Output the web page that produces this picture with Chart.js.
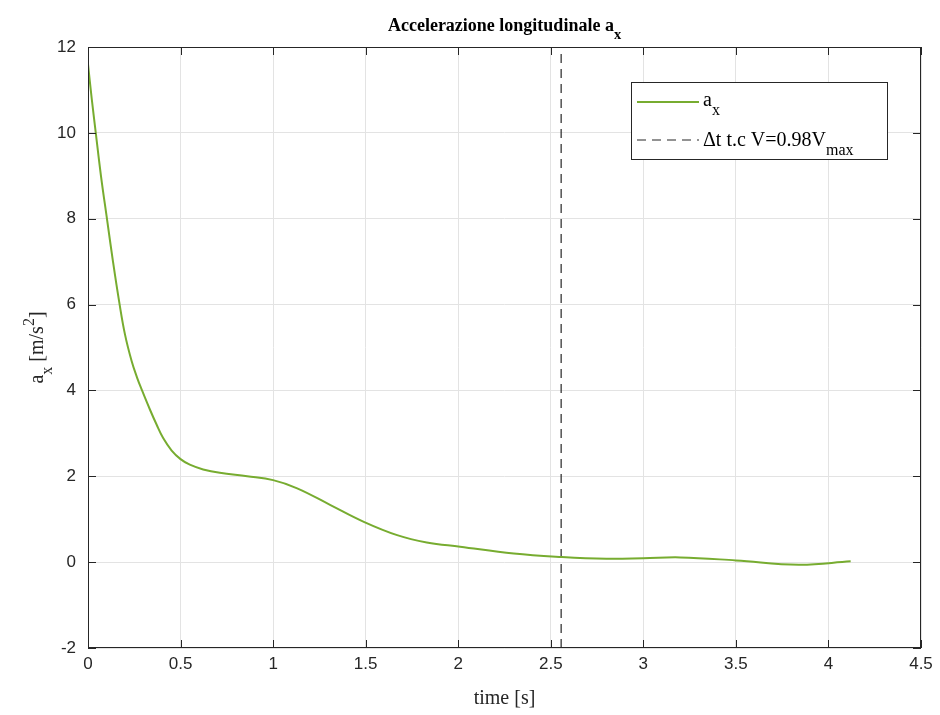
<!DOCTYPE html>
<html>
<head>
<meta charset="utf-8">
<script src="https://cdn.jsdelivr.net/npm/chart.js@4/dist/chart.umd.min.js"></script>
<style>
  html, body { margin: 0; padding: 0; background: #fff; }
  #wrap { width: 940px; height: 715px; }
</style>
</head>
<body>
<div id="wrap"><canvas id="myChart" width="940" height="715"></canvas></div>
<script>
// dati
const tempi = [0, 0.02, 0.042, 0.07, 0.104, 0.135, 0.169, 0.2, 0.236, 0.265, 0.292, 0.335, 0.371, 0.406, 0.452, 0.5, 0.55, 0.622, 0.712, 0.86, 1.0, 1.13, 1.31, 1.49, 1.67, 1.83, 2.01, 2.3, 2.56, 2.8, 3.0, 3.2, 3.5, 3.84, 4.12];
const accel = [11.6, 10.8, 10.0, 9.0, 7.95, 7.0, 6.05, 5.3, 4.68, 4.3, 4.0, 3.55, 3.2, 2.89, 2.6, 2.4, 2.27, 2.16, 2.08, 2.0, 1.91, 1.72, 1.33, 0.94, 0.63, 0.46, 0.36, 0.2, 0.12, 0.08, 0.09, 0.11, 0.04, -0.06, 0.02];
const tDelta = 2.556;
const yLimiti = [-2, 12];
const xLimiti = [0, 4.5];
const xTicks = [0, 0.5, 1, 1.5, 2, 2.5, 3, 3.5, 4, 4.5];
const yTicks = [-2, 0, 2, 4, 6, 8, 10, 12];

const ctx = document.getElementById('myChart');
const serif = '"Liberation Serif", "Times New Roman", serif';
const axisCol = '#262626';

// disegna testo con pedice/apice
function scriviParti(c, parti, x, y, size, align) {
  let w = 0;
  parti.forEach(p => {
    c.font = (p.bold ? 'bold ' : '') + (p.sub || p.sup ? size * 0.8 : size) + 'px ' + serif;
    w += c.measureText(p.t).width;
  });
  let cx = align === 'center' ? x - w / 2 : x;
  parti.forEach(p => {
    const s = p.sub || p.sup ? size * 0.8 : size;
    c.font = (p.bold ? 'bold ' : '') + s + 'px ' + serif;
    let dy = 0;
    if (p.sub) dy = size * 0.45;
    if (p.sup) dy = -size * 0.45;
    c.fillText(p.t, cx, y + dy);
    cx += c.measureText(p.t).width;
  });
}

const decorazioni = {
  id: 'decorazioni',
  afterDraw(chart) {
    const c = chart.ctx;
    const a = chart.chartArea;
    const xs = chart.scales.x, ys = chart.scales.y;
    c.save();
    // box e tacche interne
    c.strokeStyle = axisCol;
    c.lineWidth = 1;
    c.strokeRect(a.left + 0.5, a.top + 0.5, a.right - a.left - 1, a.bottom - a.top - 1);
    c.beginPath();
    xTicks.forEach(v => {
      const px = Math.round(xs.getPixelForValue(v)) + 0.5;
      c.moveTo(px, a.bottom); c.lineTo(px, a.bottom - 8);
      c.moveTo(px, a.top); c.lineTo(px, a.top + 8);
    });
    yTicks.forEach(v => {
      const py = Math.round(ys.getPixelForValue(v)) + 0.5;
      c.moveTo(a.left, py); c.lineTo(a.left + 8, py);
      c.moveTo(a.right, py); c.lineTo(a.right - 8, py);
    });
    c.stroke();

    c.fillStyle = '#000';
    c.textBaseline = 'alphabetic';
    // titolo
    scriviParti(c, [{t: 'Accelerazione longitudinale a', bold: true}, {t: 'x', bold: true, sub: true}],
      (a.left + a.right) / 2, 31, 18, 'center');
    // etichetta asse x
    c.fillStyle = axisCol;
    scriviParti(c, [{t: 'time [s]'}], (a.left + a.right) / 2, 704, 20, 'center');
    // etichetta asse y
    c.save();
    c.translate(43, (a.top + a.bottom) / 2);
    c.rotate(-Math.PI / 2);
    scriviParti(c, [{t: 'a'}, {t: 'x', sub: true}, {t: ' [m/s'}, {t: '2', sup: true}, {t: ']'}], 0, 0, 20, 'center');
    c.restore();

    // legenda
    const lx = 631, ly = 82, lw = 256, lh = 77;
    c.fillStyle = '#fff';
    c.fillRect(lx, ly, lw, lh);
    c.strokeStyle = axisCol;
    c.lineWidth = 1;
    c.strokeRect(lx + 0.5, ly + 0.5, lw, lh);
    c.strokeStyle = '#77ac30';
    c.lineWidth = 2;
    c.beginPath(); c.moveTo(lx + 6, 102); c.lineTo(lx + 68, 102); c.stroke();
    c.strokeStyle = axisCol;
    c.lineWidth = 1.2;
    c.setLineDash([9, 6]);
    c.beginPath(); c.moveTo(lx + 6, 140); c.lineTo(lx + 68, 140); c.stroke();
    c.setLineDash([]);
    c.fillStyle = '#000';
    scriviParti(c, [{t: 'a'}, {t: 'x', sub: true}], lx + 72, 106, 20, 'left');
    scriviParti(c, [{t: '\u0394t t.c V=0.98V'}, {t: 'max', sub: true}], lx + 72, 146, 20, 'left');
    c.restore();
  }
};

const chart = new Chart(ctx, {
  type: 'line',
  data: {
    datasets: [
      {
        label: 'a_x',
        data: tempi.map((t, i) => ({ x: t, y: accel[i] })),
        borderColor: '#77ac30',
        borderWidth: 2,
        pointRadius: 0,
        fill: false,
        tension: 0.4,
      },
      {
        label: 'delta t',
        data: [{ x: tDelta, y: yLimiti[0] }, { x: tDelta, y: yLimiti[1] }],
        borderColor: axisCol,
        borderWidth: 1.2,
        borderDash: [9, 6],
        pointRadius: 0,
        fill: false,
      },
    ],
  },
  options: {
    responsive: false,
    animation: false,
    layout: { padding: { top: 47, right: 19, left: 0, bottom: 0 } },
    plugins: {
      legend: { display: false },
      title: { display: false },
      tooltip: { enabled: false },
    },
    scales: {
      x: {
        type: 'linear',
        min: xLimiti[0],
        max: xLimiti[1],
        afterBuildTicks: s => { s.ticks = xTicks.map(v => ({ value: v })); },
        afterFit: s => { s.height = 67; },
        grid: { color: '#e3e3e3', drawTicks: false },
        border: { display: false },
        ticks: {
          color: axisCol, padding: 6,
          font: { family: '"Liberation Sans", Arial, sans-serif', size: 17 },
          callback: v => String(v),
        },
      },
      y: {
        type: 'linear',
        min: yLimiti[0],
        max: yLimiti[1],
        afterBuildTicks: s => { s.ticks = yTicks.map(v => ({ value: v })); },
        afterFit: s => { s.width = 88; },
        grid: { color: '#e3e3e3', drawTicks: false },
        border: { display: false },
        ticks: {
          color: axisCol, padding: 12,
          font: { family: '"Liberation Sans", Arial, sans-serif', size: 17 },
          callback: v => String(v),
        },
      },
    },
  },
  plugins: [decorazioni],
});
</script>
</body>
</html>
